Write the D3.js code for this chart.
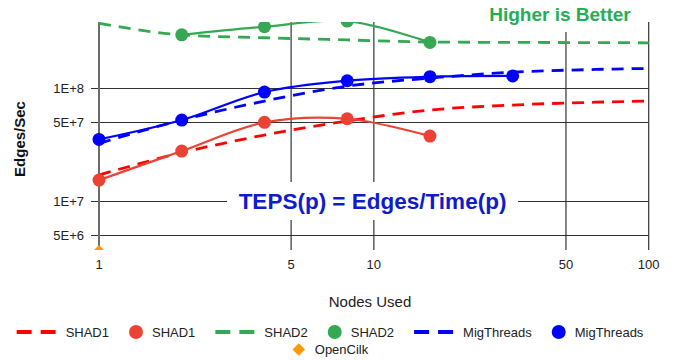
<!DOCTYPE html>
<html>
<head>
<meta charset="utf-8">
<script src="https://cdn.jsdelivr.net/npm/d3@7"></script>
<style>
  body { margin: 0; background: #fff; }
  svg { display: block; font-family: "Liberation Sans", Arial, sans-serif; }
</style>
</head>
<body>
<div id="chart"></div>
<script>
// measured points
const shad1Nodes = [1, 2, 4, 8, 16];
const shad1Teps = [1.54e7, 2.78e7, 4.98e7, 5.36e7, 3.77e7];
const shad2Nodes = [2, 4, 8, 16];
const shad2Teps = [2.95e8, 3.48e8, 3.9e8, 2.53e8];
const migNodes = [1, 2, 4, 8, 16, 32];
const migTeps = [3.52e7, 5.22e7, 9.22e7, 1.16e8, 1.26e8, 1.28e8];
const cilkNodes = [1];
const cilkTeps = [3.6e6];

// model curves (dashed)
const modelNodes = [1, 2, 4, 8, 16, 32, 64, 100];
const shad1Model = [1.71e7, 2.69e7, 3.85e7, 5.12e7, 6.4e7, 7.08e7, 7.5e7, 7.68e7];
const shad2Model = [3.73e8, 2.95e8, 2.78e8, 2.66e8, 2.55e8, 2.53e8, 2.52e8, 2.51e8];
const migModel = [3.25e7, 5.22e7, 7.68e7, 1.04e8, 1.225e8, 1.38e8, 1.46e8, 1.49e8];

const xTicks = [1, 5, 10, 50, 100];
const yTicks = [5e6, 1e7, 5e7, 1e8];
const yTickLabels = ['5E+6', '1E+7', '5E+7', '1E+8'];

const size = { width: 674, height: 360 };
const margin = { top: 22, right: 25, bottom: 110, left: 99 };

const svg = d3.select('#chart')
  .append('svg')
  .attr('width', size.width)
  .attr('height', size.height);

const x = d3.scaleLog()
  .domain([1, 100])
  .range([margin.left, size.width - margin.right - 0.3]);

const y = d3.scaleLog()
  .domain([3.72e6, 3.83e8])
  .range([size.height - margin.bottom, margin.top]);

// grid
const grid = svg.append('g');
grid.selectAll('.hgrid')
  .data(yTicks)
  .join('line')
  .attr('x1', margin.left - 8)
  .attr('x2', x(100))
  .attr('y1', (d) => Math.round(y(d)) + 0.5)
  .attr('y2', (d) => Math.round(y(d)) + 0.5)
  .attr('stroke', '#333')
  .attr('stroke-width', 1.2);

grid.selectAll('.vgrid')
  .data(xTicks)
  .join('line')
  .attr('x1', (d) => x(d))
  .attr('x2', (d) => x(d))
  .attr('y1', margin.top)
  .attr('y2', y.range()[0])
  .attr('stroke', (d) => (d === 1 ? '#6b6b6b' : '#333'))
  .attr('stroke-width', (d) => (d === 1 ? 2 : 1.2));

// tick labels
svg.append('g')
  .selectAll('text')
  .data(yTicks)
  .join('text')
  .attr('x', margin.left - 15)
  .attr('y', (d) => y(d))
  .attr('dy', '0.35em')
  .attr('text-anchor', 'end')
  .attr('font-size', 13)
  .attr('fill', '#222')
  .text((d, i) => yTickLabels[i]);

svg.append('g')
  .selectAll('text')
  .data(xTicks)
  .join('text')
  .attr('x', (d) => x(d))
  .attr('y', 268.5)
  .attr('text-anchor', 'middle')
  .attr('font-size', 13)
  .attr('fill', '#222')
  .text((d) => d);

// axis titles
svg.append('text')
  .attr('transform', 'translate(25, 139) rotate(-90)')
  .attr('text-anchor', 'middle')
  .attr('font-size', 15)
  .attr('font-weight', 'bold')
  .attr('fill', '#111')
  .text('Edges/Sec');

svg.append('text')
  .attr('x', 370)
  .attr('y', 307)
  .attr('text-anchor', 'middle')
  .attr('font-size', 15)
  .attr('fill', '#222')
  .text('Nodes Used');

// plot
svg.append('clipPath')
  .attr('id', 'plotclip')
  .append('rect')
  .attr('x', 0)
  .attr('y', margin.top)
  .attr('width', size.width)
  .attr('height', y.range()[0] - margin.top);

const plot = svg.append('g').attr('clip-path', 'url(#plotclip)');

const zip = (xs, ys) => xs.map((n, i) => ({ n, v: ys[i] }));

const dashLine = d3.line()
  .x((d) => x(d.n))
  .y((d) => y(d.v))
  .curve(d3.curveMonotoneX);

const solidLine = d3.line()
  .x((d) => x(d.n))
  .y((d) => y(d.v))
  .curve(d3.curveCatmullRom.alpha(0.5));

const models = [
  { vals: shad1Model, color: '#ff0000' },
  { vals: shad2Model, color: '#34a853' },
  { vals: migModel, color: '#0000ff' },
];

models.forEach((m) => {
  plot.append('path')
    .attr('d', dashLine(zip(modelNodes, m.vals)))
    .attr('fill', 'none')
    .attr('stroke', m.color)
    .attr('stroke-width', 2.8)
    .attr('stroke-dasharray', '12,8');
});

const measured = [
  { nodes: shad1Nodes, vals: shad1Teps, color: '#ea4335' },
  { nodes: shad2Nodes, vals: shad2Teps, color: '#34a853' },
  { nodes: migNodes, vals: migTeps, color: '#0000ff' },
];

measured.forEach((m) => {
  const pts = zip(m.nodes, m.vals);
  plot.append('path')
    .attr('d', solidLine(pts))
    .attr('fill', 'none')
    .attr('stroke', m.color)
    .attr('stroke-width', 2.2);
  plot.selectAll(null)
    .data(pts)
    .join('circle')
    .attr('cx', (d) => x(d.n))
    .attr('cy', (d) => y(d.v))
    .attr('r', 6.5)
    .attr('fill', m.color);
});

plot.selectAll(null)
  .data(zip(cilkNodes, cilkTeps))
  .join('path')
  .attr('transform', (d) => `translate(${x(d.n)}, ${y(d.v)})`)
  .attr('d', d3.symbol(d3.symbolDiamond2, 110))
  .attr('fill', '#ff9900');

// annotations
const teps = svg.append('g');
teps.append('rect')
  .attr('x', 227)
  .attr('y', 182)
  .attr('width', 291)
  .attr('height', 38)
  .attr('fill', '#fff');
teps.append('text')
  .attr('x', 372.5)
  .attr('y', 208.5)
  .attr('text-anchor', 'middle')
  .attr('font-size', 22.5)
  .attr('font-weight', 'bold')
  .attr('fill', '#0f1ccc')
  .text('TEPS(p) = Edges/Time(p)');

const better = svg.append('g');
better.append('rect')
  .attr('x', 480)
  .attr('y', 0)
  .attr('width', 160)
  .attr('height', 32)
  .attr('fill', '#fff');
better.append('text')
  .attr('x', 560)
  .attr('y', 21)
  .attr('text-anchor', 'middle')
  .attr('font-size', 19)
  .attr('font-weight', 'bold')
  .attr('fill', '#1faf55')
  .text('Higher is Better');

// legend
const legendRows = [
  [
    { label: 'SHAD1', type: 'dash', color: '#ff0000' },
    { label: 'SHAD1', type: 'dot', color: '#ea4335' },
    { label: 'SHAD2', type: 'dash', color: '#34a853' },
    { label: 'SHAD2', type: 'dot', color: '#34a853' },
    { label: 'MigThreads', type: 'dash', color: '#0000ff' },
    { label: 'MigThreads', type: 'dot', color: '#0000ff' },
  ],
  [
    { label: 'OpenCilk', type: 'diamond', color: '#ff9900' },
  ],
];
const legendY = [332, 349.5];
const legendCenter = 330;

legendRows.forEach((row, ri) => {
  const g = svg.append('g');
  let cx = 0;
  row.forEach((item, i) => {
    if (i > 0) cx += 20;
    const ig = g.append('g').attr('transform', `translate(${cx}, 0)`);
    let symW;
    if (item.type === 'dash') {
      ig.append('line')
        .attr('x1', 0).attr('x2', 39)
        .attr('y1', 0).attr('y2', 0)
        .attr('stroke', item.color)
        .attr('stroke-width', 4)
        .attr('stroke-dasharray', '15,9');
      symW = 49;
    } else if (item.type === 'dot') {
      ig.append('circle')
        .attr('cx', 7).attr('cy', 0).attr('r', 7)
        .attr('fill', item.color);
      symW = 23;
    } else {
      ig.append('path')
        .attr('transform', 'translate(7, 0)')
        .attr('d', d3.symbol(d3.symbolDiamond2, 100))
        .attr('fill', item.color);
      symW = 23;
    }
    const t = ig.append('text')
      .attr('x', symW)
      .attr('y', 0)
      .attr('dy', '0.35em')
      .attr('font-size', 13)
      .attr('fill', '#222')
      .text(item.label);
    cx += symW + t.node().getComputedTextLength();
  });
  g.attr('transform', `translate(${legendCenter - cx / 2}, ${legendY[ri]})`);
});
</script>
</body>
</html>
